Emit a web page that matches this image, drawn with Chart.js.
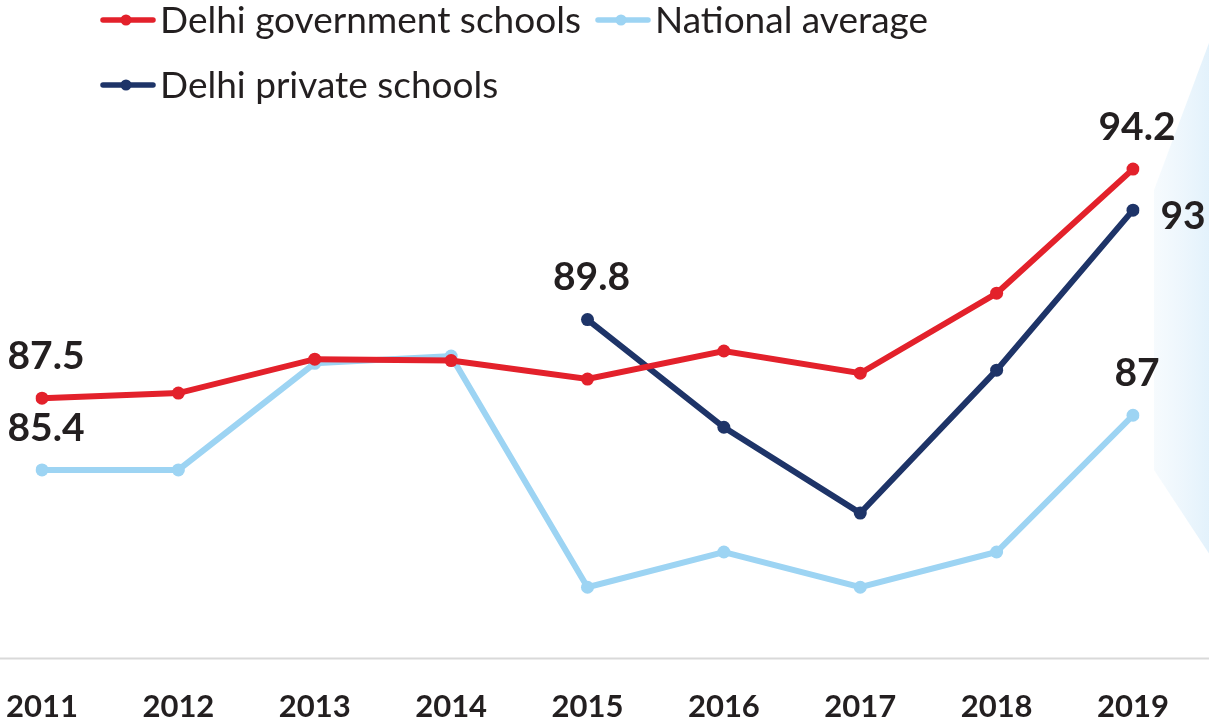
<!DOCTYPE html>
<html>
<head>
<meta charset="utf-8">
<script src="https://cdn.jsdelivr.net/npm/chart.js@4/dist/chart.umd.min.js"></script>
<style>
  html, body { margin: 0; padding: 0; background: #fff; }
  #wrap { width: 1209px; height: 728px; position: relative; }
</style>
</head>
<body>
<div id="wrap"><canvas id="myChart" width="1209" height="728"></canvas></div>
<script>
// years on the x axis
var years = ['2011', '2012', '2013', '2014', '2015', '2016', '2017', '2018', '2019'];

// pass rate
var govtSchools = [87.5, 87.65, 88.64, 88.6, 88.06, 88.88, 88.23, 90.57, 94.2];
var nationalAvg = [85.4, 85.4, 88.52, 88.73, 81.97, 83.0, 81.97, 83.0, 87];
var privateSchools = [null, null, null, null, 89.8, 86.65, 84.14, 88.32, 93];

// which points get a value label (series index, point index, text)
var labelSeries = [0, 1, 2, 0, 2, 1];
var labelPoints = [0, 0, 4, 8, 8, 8];
var labelTexts = ['87.5', '85.4', '89.8', '94.2', '93', '87'];

var red = '#e3212b';
var lightBlue = '#9dd4f3';
var navy = '#1e3468';
var ink = '#231f20';

var extras = {
  id: 'extras',
  beforeDraw: function (chart) {
    var c = chart.ctx;
    // faint panel at the right edge
    c.save();
    var g = c.createLinearGradient(1150, 0, 1209, 0);
    g.addColorStop(0, 'rgba(232,244,252,0.3)');
    g.addColorStop(1, 'rgba(226,241,251,1)');
    c.fillStyle = g;
    c.beginPath();
    c.moveTo(1212, 35);
    c.lineTo(1154, 190);
    c.lineTo(1154, 470);
    c.lineTo(1212, 558);
    c.closePath();
    c.fill();
    c.restore();
  },
  afterDatasetsDraw: function (chart) {
    var c = chart.ctx;
    var x = chart.scales.x;
    var y = chart.scales.y;
    c.save();
    // base line
    var by = Math.round(y.getPixelForValue(y.min)) + 0.5;
    c.strokeStyle = '#d9d9d9';
    c.lineWidth = 2;
    c.beginPath();
    c.moveTo(0, by);
    c.lineTo(1209, by);
    c.stroke();

    // year labels
    c.fillStyle = ink;
    c.font = 'bold 31px Lato';
    c.textAlign = 'center';
    c.textBaseline = 'middle';
    years.forEach(function (yr, i) {
      c.fillText(yr, x.getPixelForValue(i), 707);
    });

    // value labels
    c.font = 'bold 39px Lato';
    labelTexts.forEach(function (t, k) {
      var pt = chart.getDatasetMeta(labelSeries[k]).data[labelPoints[k]];
      var dx = 4, dy = -42;
      if (t === '93') { dx = 50; dy = 6; }
      c.fillText(t, pt.x + dx, pt.y + dy);
    });

    // legend
    var items = [
      { text: 'Delhi government schools', color: red, x: 103, y: 20 },
      { text: 'National average', color: lightBlue, x: 598, y: 20 },
      { text: 'Delhi private schools', color: navy, x: 103, y: 85 }
    ];
    c.font = '37px Lato';
    c.textAlign = 'left';
    items.forEach(function (it) {
      c.strokeStyle = it.color;
      c.fillStyle = it.color;
      c.lineWidth = 5.5;
      c.lineCap = 'round';
      c.beginPath();
      c.moveTo(it.x, it.y);
      c.lineTo(it.x + 50, it.y);
      c.stroke();
      c.beginPath();
      c.arc(it.x + 23, it.y, 5.5, 0, Math.PI * 2);
      c.fill();
      c.fillStyle = ink;
      c.fillText(it.text, it.x + 57, it.y + 1);
    });
    c.restore();
  }
};

var ctx = document.getElementById('myChart').getContext('2d');
var myChart = new Chart(ctx, {
  type: 'line',
  data: {
    labels: years,
    datasets: [{
      label: 'Delhi government schools',
      data: govtSchools,
      borderColor: red,
      backgroundColor: red
    }, {
      label: 'National average',
      data: nationalAvg,
      borderColor: lightBlue,
      backgroundColor: lightBlue
    }, {
      label: 'Delhi private schools',
      data: privateSchools,
      borderColor: navy,
      backgroundColor: navy
    }]
  },
  options: {
    responsive: false,
    animation: false,
    layout: { padding: { left: 42, right: 76, top: 111, bottom: 70 } },
    elements: {
      line: { borderWidth: 6, tension: 0 },
      point: { radius: 6.5, borderWidth: 0 }
    },
    plugins: { legend: { display: false }, tooltip: { enabled: false } },
    scales: {
      x: { display: false },
      y: { display: false, min: 79.9, max: 95.9 }
    }
  },
  plugins: [extras]
});
</script>
</body>
</html>
